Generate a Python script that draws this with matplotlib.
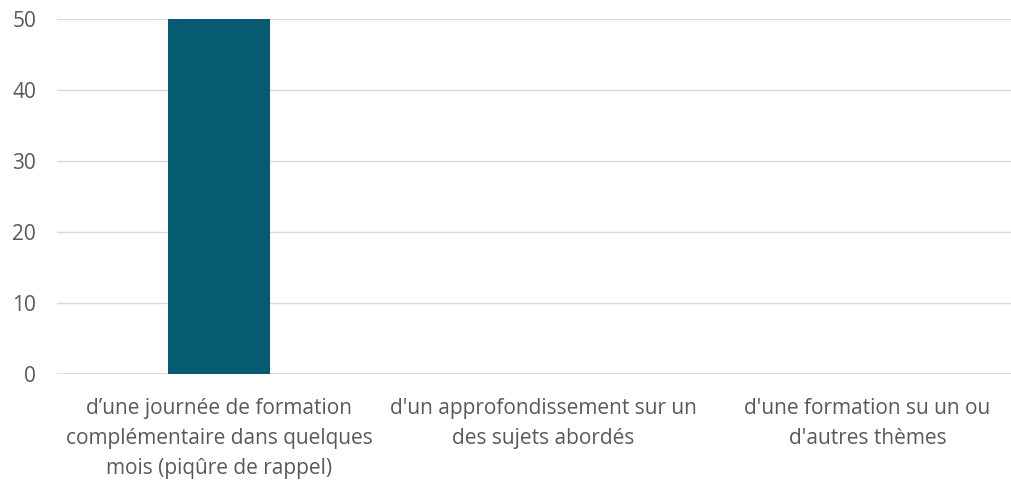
import matplotlib
matplotlib.use("Agg")
import matplotlib.pyplot as plt

categories = [
    "d\u2019une journée de formation\ncomplémentaire dans quelques\nmois (piqûre de rappel)",
    "d'un approfondissement sur un\ndes sujets abordés",
    "d'une formation su un ou\nd'autres thèmes",
]
values = [50, 0, 0]
yticks = [0, 10, 20, 30, 40, 50]

plt.rcParams['font.family'] = ['Open Sans', 'DejaVu Sans']
fig = plt.figure(figsize=(10.11, 4.83), dpi=100)
ax = fig.add_axes([0.0564, 0.225, 0.962, 0.736])

x = list(range(len(categories)))
ax.bar(x, values, width=0.315, color="#065A71", zorder=3)
ax.set_xlim(-0.5, 2.5)
ax.set_ylim(0, 50)
ax.set_yticks(yticks)
ax.grid(axis='y', color="#D9D9D9", linewidth=1, zorder=0)
for s in ax.spines.values():
    s.set_visible(False)
ax.axhline(0, color="#D9D9D9", linewidth=1.2, zorder=2)
ax.tick_params(axis='both', length=0, colors="#595959", labelsize=15)
ax.tick_params(axis='y', pad=15)
ax.tick_params(axis='x', pad=17)
ax.set_xticks(x)
ax.set_xticklabels(categories, linespacing=1.55)
fig.savefig("out.png", dpi=100)
